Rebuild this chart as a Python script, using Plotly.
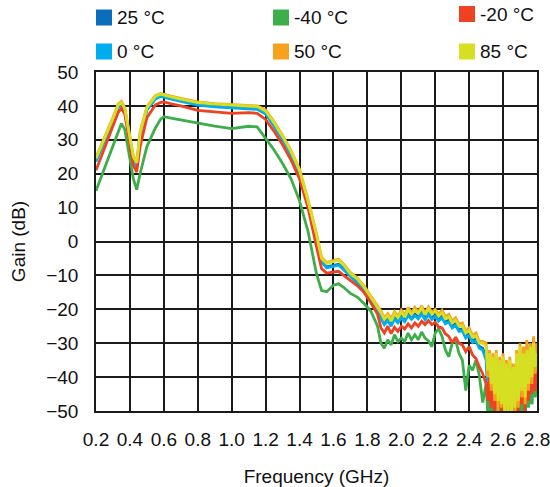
import plotly.graph_objects as go

# Frequency points (GHz)
freq = [
    0.20, 0.25, 0.30, 0.33, 0.35, 0.37, 0.40, 0.42, 0.44, 0.46,
    0.50, 0.55, 0.58, 0.60, 0.65, 0.70, 0.80, 0.90, 1.00, 1.10,
    1.15, 1.20, 1.25, 1.30, 1.35, 1.40, 1.45, 1.50, 1.53, 1.56,
    1.60, 1.63, 1.66, 1.70, 1.74, 1.78, 1.82, 1.86,
    1.88, 1.90, 1.92, 1.94, 1.96, 1.98, 2.00, 2.02, 2.04, 2.06,
    2.08, 2.10, 2.12, 2.14, 2.16, 2.18, 2.20, 2.22, 2.24, 2.26,
    2.28, 2.30, 2.32, 2.34, 2.36, 2.38, 2.40, 2.42, 2.44, 2.46,
    2.48,
    2.50, 2.51, 2.52, 2.53, 2.54, 2.55, 2.56, 2.57, 2.58, 2.59,
    2.60, 2.61, 2.62, 2.63, 2.64, 2.65, 2.66, 2.67, 2.68, 2.69,
    2.70, 2.71, 2.72, 2.73, 2.74, 2.75, 2.76, 2.77, 2.78, 2.79,
    2.80,
]

gain_25 = [
    23.8, 29.8, 35.8, 39.8, 40.7, 38.8, 30.0, 24.3, 22.5, 31.3,
    39.0, 42.3, 43.1, 42.9, 42.2, 41.6, 40.5, 40.0, 39.7, 39.6,
    39.3, 37.9, 34.3, 30.3, 25.8, 20.3, 11.3, 1.3, -5.7, -7.5,
    -7.0, -6.7, -8.0, -10.0, -11.7, -13.9, -16.9, -20.2,
    -22.3, -24.0, -22.9, -24.6, -22.4, -23.5, -22.0, -23.2, -21.3, -22.6,
    -21.4, -22.3, -20.8, -22.6, -21.0, -22.5, -21.7, -23.0, -22.0, -23.8,
    -23.2, -25.0, -24.3, -26.0, -25.8, -28.0, -27.2, -29.3, -28.8, -31.0,
    -31.5,
    -34, -42, -36, -46, -37, -48, -35, -49, -38, -50,
    -37, -50, -38, -51, -36, -50, -39, -50, -35, -49,
    -34, -48, -33, -49, -31, -46, -30, -45, -29, -44,
    -31,
]

gain_0 = [
    23.5, 29.5, 35.5, 39.5, 40.4, 38.5, 29.8, 24.0, 22.2, 31.0,
    38.8, 42.0, 42.8, 42.6, 41.9, 41.3, 40.2, 39.7, 39.4, 39.3,
    39.0, 37.6, 34.0, 30.0, 25.5, 20.0, 11.0, 1.0, -6.0, -7.8,
    -7.3, -7.0, -8.3, -10.3, -12.0, -14.2, -17.2, -20.5,
    -22.8, -24.5, -23.3, -25.0, -22.8, -24.0, -22.5, -23.7, -21.8, -23.0,
    -21.9, -22.8, -21.3, -23.1, -21.5, -23.0, -22.2, -23.5, -22.5, -24.3,
    -23.7, -25.5, -24.8, -26.5, -26.3, -28.5, -27.7, -29.8, -29.3, -31.5,
    -32.0,
    -35, -44, -35, -47, -38, -49, -36, -50, -40, -47,
    -38, -51, -39, -48, -37, -51, -40, -49, -36, -50,
    -35, -47, -34, -50, -33, -45, -32, -48, -31, -43,
    -32,
]

gain_m40 = [
    15.0, 21.5, 28.0, 32.5, 34.8, 33.0, 25.0, 18.5, 15.3, 20.0,
    28.0, 33.5, 36.0, 36.8, 36.3, 35.8, 35.0, 34.0, 33.3, 34.0,
    33.8, 30.5, 27.0, 23.0, 18.5, 12.0, 3.0, -9.5, -14.5, -14.8,
    -12.9, -12.5, -13.5, -15.3, -16.4, -18.3, -20.5, -25.0,
    -30.0, -31.5, -29.0, -30.5, -27.5, -29.5, -28.5, -29.5, -27.0, -29.0,
    -27.5, -29.0, -26.7, -28.5, -29.3, -31.0, -27.0, -25.7, -28.0, -32.0,
    -34.0, -30.0, -29.0, -33.0, -35.0, -44.0, -36.5, -38.0, -35.0, -39.5,
    -47.5,
    -42, -51, -44, -51, -46, -51, -45, -51, -48, -51,
    -47, -51, -48, -51, -47, -51, -48, -51, -46, -51,
    -47, -51, -45, -51, -44, -49, -42, -48, -38, -46,
    -40,
]

gain_m20 = [
    21.0, 27.5, 34.0, 38.0, 39.3, 37.5, 28.5, 22.5, 20.5, 28.0,
    36.5, 40.3, 41.0, 41.2, 40.5, 40.0, 38.7, 38.2, 37.8, 38.0,
    37.8, 36.0, 32.5, 28.5, 24.0, 18.5, 10.0, -1.5, -8.0, -9.3,
    -9.0, -8.8, -10.0, -11.5, -13.0, -15.0, -18.0, -21.5,
    -25.5, -27.0, -25.0, -27.2, -25.3, -26.5, -25.0, -25.8, -24.3, -25.5,
    -24.0, -25.0, -23.5, -24.5, -23.3, -24.5, -23.8, -25.2, -25.5, -27.2,
    -28.0, -30.0, -28.2, -30.0, -30.5, -32.5, -31.0, -33.5, -34.5, -37.0,
    -39.0,
    -42, -47, -40, -49, -43, -50, -41, -48, -44, -50,
    -45, -51, -43, -49, -46, -51, -42, -49, -44, -51,
    -40, -48, -42, -50, -38, -47, -35, -45, -33, -44,
    -36,
]

gain_50 = [
    24.8, 30.6, 36.6, 40.5, 41.3, 39.5, 30.8, 25.3, 23.5, 32.3,
    39.8, 43.0, 43.7, 43.4, 42.8, 42.2, 41.2, 40.7, 40.4, 40.3,
    40.0, 38.8, 35.3, 31.3, 26.8, 21.3, 12.3, 2.3, -4.7, -6.2,
    -5.7, -5.2, -6.7, -9.2, -10.7, -13.1, -16.1, -19.2,
    -20.5, -22.5, -21.3, -22.8, -20.7, -22.0, -20.2, -21.8, -19.5, -21.0,
    -19.4, -20.8, -19.0, -21.1, -19.3, -20.8, -20.0, -21.5, -20.3, -22.2,
    -21.5, -23.5, -22.5, -24.4, -24.0, -26.5, -25.5, -27.8, -27.0, -29.5,
    -29.5,
    -30, -40, -32, -44, -33, -47, -32, -50, -34, -49,
    -33, -51, -35, -51, -34, -50, -36, -51, -32, -49,
    -30, -46, -31, -48, -29, -44, -30, -42, -28, -39,
    -30,
]

gain_85 = [
    24.5, 30.3, 36.3, 40.2, 41.0, 39.2, 30.5, 25.0, 23.2, 32.0,
    39.5, 42.8, 43.5, 43.2, 42.6, 42.0, 41.0, 40.5, 40.2, 40.1,
    39.8, 38.5, 35.0, 31.0, 26.5, 21.0, 12.0, 2.0, -5.0, -6.5,
    -6.0, -5.5, -7.0, -9.5, -11.0, -13.4, -16.4, -19.5,
    -21.0, -23.0, -21.8, -23.5, -21.2, -22.5, -20.8, -22.3, -20.2, -21.5,
    -20.2, -21.2, -19.7, -21.6, -19.9, -21.4, -20.5, -22.0, -21.0, -22.8,
    -22.2, -24.0, -23.2, -24.9, -24.8, -27.0, -26.2, -28.2, -27.8, -30.0,
    -30.0,
    -31, -38, -33, -42, -34, -45, -33, -47, -35, -48,
    -34, -51, -36, -50, -35, -51, -37, -49, -33, -47,
    -31, -44, -33, -46, -32, -42, -31, -40, -30, -37,
    -33,
]

series_names = ["25 °C", "0 °C", "-40 °C", "-20 °C", "50 °C", "85 °C"]
series_colors = ["#0A6EBD", "#00AEEF", "#3DAE49", "#EF4123", "#F7A11D", "#D7DF23"]
series_values = [gain_25, gain_0, gain_m40, gain_m20, gain_50, gain_85]

# legend grid: (column, row) of each series
legend_col = [0, 0, 1, 2, 1, 2]
legend_row = [0, 1, 0, 0, 1, 1]

for v in series_values:
    assert len(v) == len(freq), (len(v), len(freq))

FONT = "Liberation Sans, Arial, Helvetica, sans-serif"
W, H = 550, 487
ML, MR, MT, MB = 96, 13, 72, 76
PW, PH = W - ML - MR, H - MT - MB

fig = go.Figure()
for name, color, vals in zip(series_names, series_colors, series_values):
    fig.add_trace(go.Scatter(
        x=freq, y=vals, mode="lines", name=name,
        line=dict(color=color, width=2.8),
        showlegend=False,
    ))

# manual legend (swatch + label) placed above the plot
col_x = [96, 273, 459]        # swatch left edge (px)
row_y = [[17.5, 51.5], [17.5, 51.5], [14.0, 51.5]]  # row centre (px)
SW = 16

def px_to_paper_x(px):
    return (px - ML) / PW

def px_to_paper_y(py):
    return (H - MB - py) / PH

shapes = []
annotations = []
for name, color, c, r in zip(series_names, series_colors, legend_col, legend_row):
    x0 = col_x[c]
    yc = row_y[c][r]
    shapes.append(dict(
        type="rect", xref="paper", yref="paper",
        x0=px_to_paper_x(x0), x1=px_to_paper_x(x0 + SW),
        y0=px_to_paper_y(yc + SW / 2), y1=px_to_paper_y(yc - SW / 2),
        fillcolor=color, line=dict(width=0), layer="above",
    ))
    annotations.append(dict(
        xref="paper", yref="paper",
        x=px_to_paper_x(x0 + SW + 3), y=px_to_paper_y(yc),
        xanchor="left", yanchor="middle", showarrow=False,
        text=name, font=dict(family=FONT, size=19, color="#111"),
    ))

fig.update_layout(
    width=W, height=H,
    margin=dict(l=ML, r=MR, t=MT, b=MB),
    paper_bgcolor="white", plot_bgcolor="white",
    font=dict(family=FONT, size=19, color="#111"),
    showlegend=False,
    shapes=shapes,
    annotations=annotations,
    xaxis=dict(
        range=[0.2, 2.8], dtick=0.2, tick0=0.2, tickformat=".1f",
        automargin=False, ticklabeloverflow="allow",
        showgrid=True, gridcolor="#1a1a1a", gridwidth=1.6,
        showline=True, linecolor="#1a1a1a", linewidth=1.6, mirror=True,
        zeroline=False, ticks="", ticklabelstandoff=10,
        tickfont=dict(family=FONT, size=19, color="#111"),
        title=dict(text="Frequency (GHz)", standoff=21,
                   font=dict(family=FONT, size=19, color="#111")),
    ),
    yaxis=dict(
        range=[-50, 50], dtick=10,
        automargin=False, ticklabeloverflow="allow",
        showgrid=True, gridcolor="#1a1a1a", gridwidth=1.6,
        showline=True, linecolor="#1a1a1a", linewidth=1.6, mirror=True,
        zeroline=False, ticks="", ticklabelstandoff=12,
        tickfont=dict(family=FONT, size=19, color="#111"),
        title=dict(text="Gain (dB)", standoff=16,
                   font=dict(family=FONT, size=19, color="#111")),
    ),
)

fig.write_html("out.html")
